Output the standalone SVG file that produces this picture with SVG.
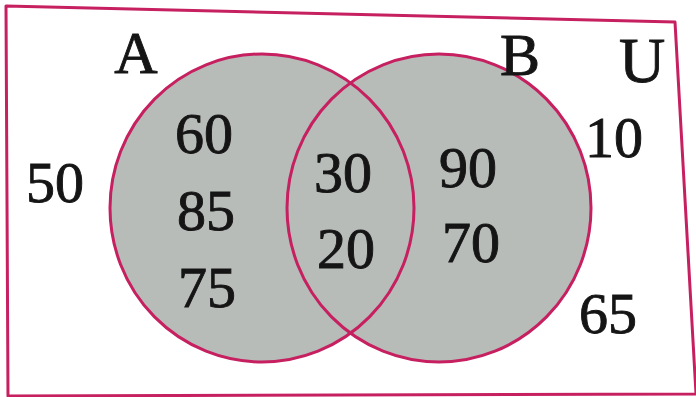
<svg xmlns="http://www.w3.org/2000/svg" width="696" height="397" viewBox="0 0 696 397">
<style>
.edge{fill:none;stroke:#c62060;stroke-width:3;stroke-linejoin:round}
.fill{fill:#b7bcb8;stroke:none}
.t{font-family:"Liberation Serif","Times New Roman",serif;fill:#151515;stroke:#151515;stroke-width:0.9;text-anchor:middle;font-size:58px}
.lbl{font-size:60px}
</style>
<rect width="696" height="397" fill="#ffffff"/>
<g id="universe">
<polygon class="edge" points="6,6 675,22 696,394 8,396"/>
</g>
<g id="fills">
<ellipse class="fill" cx="262" cy="208" rx="152" ry="154"/>
<ellipse class="fill" cx="439" cy="208" rx="152" ry="154"/>
</g>
<g id="setA">
<ellipse class="edge" cx="262" cy="208" rx="152" ry="154"/>
<text class="t lbl" x="136" y="73">A</text>
<text class="t" x="204" y="153">60</text>
<text class="t" x="206" y="230">85</text>
<text class="t" x="207" y="307">75</text>
</g>
<g id="setB">
<ellipse class="edge" cx="439" cy="208" rx="152" ry="154"/>
<text class="t lbl" x="520" y="75">B</text>
<text class="t" x="468" y="187">90</text>
<text class="t" x="471" y="262">70</text>
</g>
<g id="intersection">
<text class="t" x="343" y="192">30</text>
<text class="t" x="346" y="268">20</text>
</g>
<g id="outside">
<text class="t" x="642" y="82" style="font-size:64px">U</text>
<text class="t" x="55" y="202">50</text>
<text class="t" x="614" y="157">10</text>
<text class="t" x="608" y="333">65</text>
</g>
</svg>
